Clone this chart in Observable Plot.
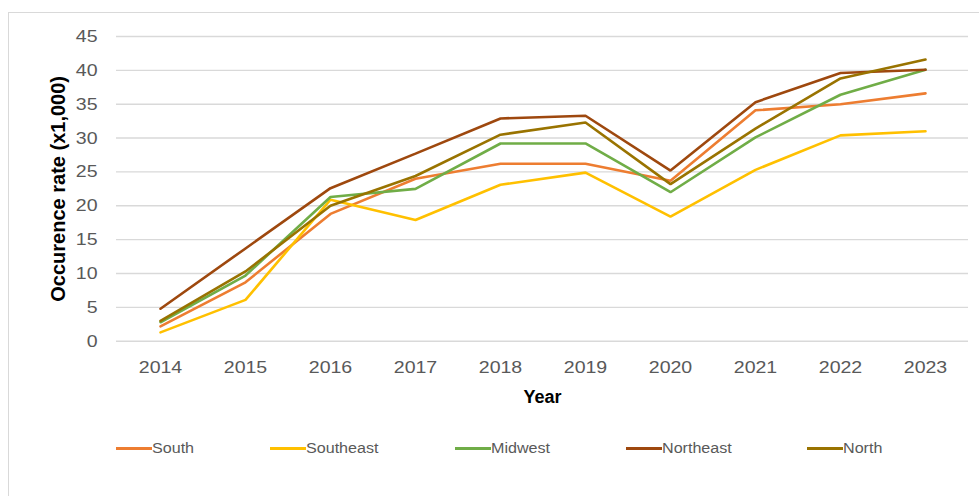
<!DOCTYPE html>
<html>
<head>
<meta charset="utf-8">
<script src="https://cdn.jsdelivr.net/npm/d3@7"></script>
<script src="https://cdn.jsdelivr.net/npm/@observablehq/plot@0.6"></script>
<style>
  html, body { margin: 0; padding: 0; background: #fff; width: 979px; height: 496px; overflow: hidden; }
  body { position: relative; font-family: "Liberation Sans", Arial, sans-serif; }
  #frame { position: absolute; left: 8px; top: 12px; width: 1100px; height: 700px; border: 1px solid #d9d9d9; box-sizing: border-box; }
  #chart { position: absolute; left: 0; top: 0; }
  #legend { position: absolute; left: 0; top: 438px; height: 20px; width: 979px; }
  .item { position: absolute; top: 0; height: 20px; display: flex; align-items: center; }
  .swatch { width: 36px; height: 3px; }
  .lab { display: inline-block; font-size: 14px; color: #595959; transform: scaleX(1.15); transform-origin: left center; white-space: nowrap; }
</style>
</head>
<body>
<div id="frame"></div>
<div id="chart"></div>
<div id="legend"></div>
<script>
// Occurrence rate per region, in thousands
const years = [2014, 2015, 2016, 2017, 2018, 2019, 2020, 2021, 2022, 2023];
const south     = [2.2, 8.7, 18.8, 24.0, 26.2, 26.2, 23.7, 34.1, 35.0, 36.6];
const southeast = [1.3, 6.1, 20.9, 17.9, 23.1, 24.9, 18.4, 25.3, 30.4, 31.0];
const midwest   = [2.8, 9.7, 21.3, 22.5, 29.2, 29.2, 22.0, 30.1, 36.4, 40.1];
const northeast = [4.8, 13.7, 22.6, 27.7, 32.9, 33.3, 25.2, 35.3, 39.6, 40.1];
const north     = [3.0, 10.3, 20.0, 24.4, 30.5, 32.3, 23.2, 31.4, 38.8, 41.6];

const regionNames = ["South", "Southeast", "Midwest", "Northeast", "North"];
const regionColors = ["#ED7D31", "#FFC000", "#70AD47", "#9E480E", "#997300"];
const yTicks = [0, 5, 10, 15, 20, 25, 30, 35, 40, 45];

const seriesValues = [south, southeast, midwest, northeast, north];
const rows = regionNames.flatMap((name, k) =>
  years.map((year, i) => ({ year, value: seriesValues[k][i], name }))
);

const chart = Plot.plot({
  width: 979,
  height: 410,
  marginLeft: 116,
  marginRight: 11,
  marginTop: 36,
  marginBottom: 69.3,
  style: { fontFamily: "'Liberation Sans', Arial, sans-serif", background: "transparent", overflow: "visible" },
  x: { type: "point", domain: years, padding: 0.5, label: null },
  y: { domain: [0, 45], label: null },
  color: { domain: regionNames, range: regionColors },
  marks: [
    Plot.gridY(yTicks, { stroke: "#d9d9d9", strokeOpacity: 1, strokeWidth: 1.4 }),
    Plot.axisY(yTicks, { tickSize: 0, tickPadding: 19, fontSize: 17, fill: "#595959", label: null }),
    Plot.axisX(years, { tickSize: 0, tickPadding: 20, fontSize: 17, fill: "#595959", label: null, tickFormat: d => String(d) }),
    Plot.lineY(rows, { x: "year", y: "value", stroke: "name", strokeWidth: 2.6, strokeLinejoin: "miter" }),
    Plot.text(["Year"], { frameAnchor: "bottom", textAnchor: "middle", dy: 56, lineAnchor: "middle", fontSize: 18, fontWeight: "bold", fill: "#000" }),
    Plot.text(["Occurence rate (x1,000)"], { frameAnchor: "left", textAnchor: "middle", dx: -58, rotate: -90, lineAnchor: "middle", fontSize: 20, fontWeight: "bold", fill: "#000" })
  ]
});
document.getElementById("chart").appendChild(chart);

// widen axis lettering horizontally about each label's anchor point
chart.querySelectorAll('g[aria-label="y-axis tick label"] text, g[aria-label="x-axis tick label"] text').forEach(t => {
  const tr = t.getAttribute("transform") || "";
  t.setAttribute("transform", tr + " scale(1.15,1)");
});

// legend row
const legend = document.getElementById("legend");
let left = 116;
regionNames.forEach((name, k) => {
  const item = document.createElement("div");
  item.className = "item";
  item.style.left = left + "px";
  const sw = document.createElement("span");
  sw.className = "swatch";
  sw.style.background = regionColors[k];
  const lab = document.createElement("span");
  lab.className = "lab";
  lab.textContent = name;
  item.appendChild(sw);
  item.appendChild(lab);
  legend.appendChild(item);
  const w = 36 + lab.getBoundingClientRect().width;
  left += w + 76;
});
</script>
</body>
</html>
